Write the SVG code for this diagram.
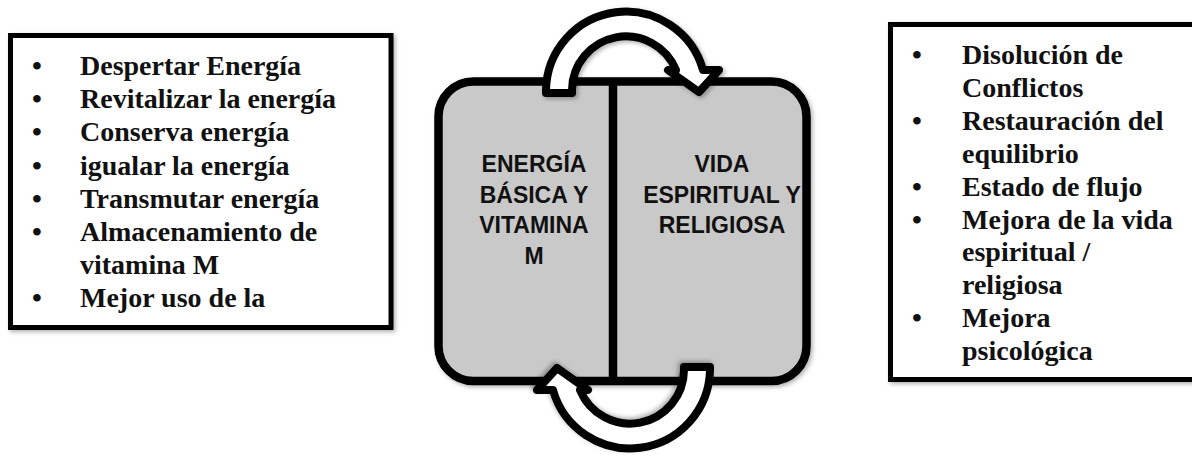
<svg xmlns="http://www.w3.org/2000/svg" width="1192" height="456" viewBox="0 0 1192 456">
<style>
.box{fill:#fff;stroke:#000;stroke-width:5}
.list{font-family:"Liberation Serif","Times New Roman",serif;font-weight:bold;font-size:28px;fill:#111}
.core{fill:#c9c9c9;stroke:#000;stroke-width:8.5}
.lbl{font-family:"Liberation Sans",Arial,sans-serif;font-weight:bold;font-size:23px;fill:#111;text-anchor:middle}
.arrow{fill:#fff;stroke:#000;stroke-width:8;stroke-linejoin:round}
</style>
<defs>
<filter id="sh" x="-10%" y="-10%" width="120%" height="120%">
<feDropShadow dx="2" dy="2" stdDeviation="2" flood-color="#000" flood-opacity="0.3"/>
</filter>
<path id="arc" d="M546,93 L546,90 A80,80 0 0 1 703,70 L719,70 L699,92 L668,70 L676,70 A54,54 0 0 0 572,90 L572,93 Z"/>
</defs>

<g id="left-list">
<rect class="box" x="10.5" y="35.5" width="380.5" height="292" filter="url(#sh)"/>
<text class="list">
<tspan x="32" y="75">•</tspan><tspan x="80" y="75">Despertar Energía</tspan>
<tspan x="32" y="108.2">•</tspan><tspan x="80" y="108.2">Revitalizar la energía</tspan>
<tspan x="32" y="141.4">•</tspan><tspan x="80" y="141.4">Conserva energía</tspan>
<tspan x="32" y="174.6">•</tspan><tspan x="80" y="174.6">igualar la energía</tspan>
<tspan x="32" y="207.8">•</tspan><tspan x="80" y="207.8">Transmutar energía</tspan>
<tspan x="32" y="241">•</tspan><tspan x="80" y="241">Almacenamiento de</tspan>
<tspan x="80" y="274.2">vitamina M</tspan>
<tspan x="32" y="307.4">•</tspan><tspan x="80" y="307.4">Mejor uso de la</tspan>
</text>
</g>

<g id="right-list">
<rect class="box" x="890.5" y="24.5" width="330" height="355" filter="url(#sh)"/>
<text class="list">
<tspan x="912" y="64">•</tspan><tspan x="962" y="64">Disolución de</tspan>
<tspan x="962" y="96.9">Conflictos</tspan>
<tspan x="912" y="129.8">•</tspan><tspan x="962" y="129.8">Restauración del</tspan>
<tspan x="962" y="162.7">equilibrio</tspan>
<tspan x="912" y="195.6">•</tspan><tspan x="962" y="195.6">Estado de flujo</tspan>
<tspan x="912" y="228.5">•</tspan><tspan x="962" y="228.5">Mejora de la vida</tspan>
<tspan x="962" y="261.4">espiritual /</tspan>
<tspan x="962" y="294.3">religiosa</tspan>
<tspan x="912" y="327.2">•</tspan><tspan x="962" y="327.2">Mejora</tspan>
<tspan x="962" y="360.1">psicológica</tspan>
</text>
</g>

<g id="core">
<rect class="core" x="438.5" y="81.5" width="368" height="299.5" rx="35" ry="35" filter="url(#sh)"/>
<line x1="613" y1="81.5" x2="613" y2="381" stroke="#000" stroke-width="8.5"/>
<g id="energia">
<text class="lbl" x="534" y="171.5">ENERGÍA</text>
<text class="lbl" x="534" y="202.5">BÁSICA Y</text>
<text class="lbl" x="534" y="233">VITAMINA</text>
<text class="lbl" x="534" y="263.5">M</text>
</g>
<g id="vida">
<text class="lbl" x="722" y="171.5">VIDA</text>
<text class="lbl" x="722" y="202.5">ESPIRITUAL Y</text>
<text class="lbl" x="722" y="233">RELIGIOSA</text>
</g>
</g>

<g id="connectors">
<use href="#arc" class="arrow" filter="url(#sh)"/>
<use href="#arc" class="arrow" filter="url(#sh)" transform="rotate(180 628 230)"/>
</g>
</svg>
